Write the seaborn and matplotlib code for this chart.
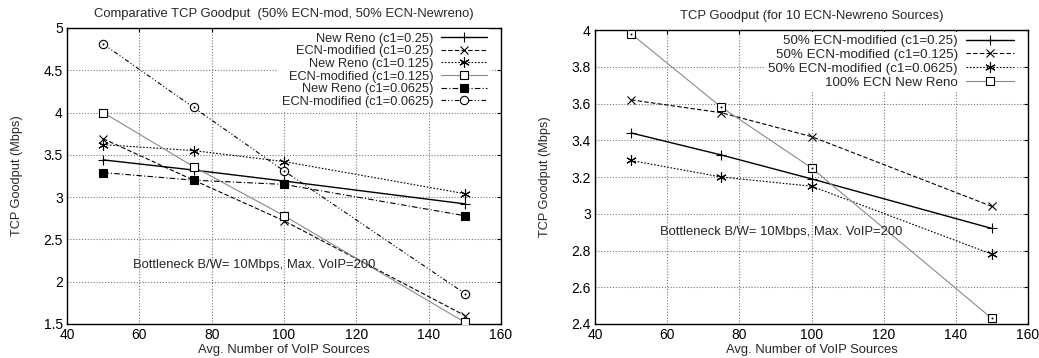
import matplotlib
matplotlib.use("Agg")
import matplotlib.pyplot as plt
import seaborn as sns
import pandas as pd

# ---------------- data ----------------
voip_sources = [50, 75, 100, 150]

# left panel
left_newreno_025 = [3.44, 3.32, 3.19, 2.92]
left_ecnmod_025 = [3.69, 3.20, 2.72, 1.60]
left_newreno_0125 = [3.62, 3.55, 3.42, 3.04]
left_ecnmod_0125 = [4.00, 3.36, 2.78, 1.52]
left_newreno_00625 = [3.29, 3.20, 3.15, 2.78]
left_ecnmod_00625 = [4.81, 4.06, 3.31, 1.86]
left_labels = ["New Reno (c1=0.25)", "ECN-modified (c1=0.25)",
               "New Reno (c1=0.125)", "ECN-modified (c1=0.125)",
               "New Reno (c1=0.0625)", "ECN-modified (c1=0.0625)"]

# right panel
right_ecnmod_025 = [3.44, 3.32, 3.19, 2.92]
right_ecnmod_0125 = [3.62, 3.55, 3.42, 3.04]
right_ecnmod_00625 = [3.29, 3.20, 3.15, 2.78]
right_ecn_newreno = [3.98, 3.58, 3.25, 2.43]
right_labels = ["50% ECN-modified (c1=0.25)", "50% ECN-modified (c1=0.125)",
                "50% ECN-modified (c1=0.0625)", "100% ECN New Reno"]

left_title = "Comparative TCP Goodput  (50% ECN-mod, 50% ECN-Newreno)"
right_title = "TCP Goodput (for 10 ECN-Newreno Sources)"
x_label = "Avg. Number of VoIP Sources"
y_label = "TCP Goodput (Mbps)"
note = "Bottleneck B/W= 10Mbps, Max. VoIP=200"

# ---------------- style ----------------
sns.set_style("white")
plt.rcParams["font.family"] = ["Liberation Sans", "DejaVu Sans"]
plt.rcParams["font.size"] = 9

GRAY = "#8a8a8a"
asterisk = (6, 2, 0)

styles_left = [
    dict(color="black", lw=1.0, ls="-", marker="+", ms=7, mfc="none"),
    dict(color="black", lw=0.8, ls=(0, (4, 2)), marker="x", ms=5.5, mfc="none"),
    dict(color="black", lw=0.8, ls=(0, (1.5, 1.5)), marker=asterisk, ms=7.5, mfc="none"),
    dict(color=GRAY, lw=0.8, ls="-", marker="s", ms=6, mfc="white"),
    dict(color="black", lw=0.8, ls=(0, (5, 2, 1, 2)), marker="s", ms=6, mfc="black"),
    dict(color="black", lw=0.8, ls=(0, (4, 2, 1, 2, 1, 2)), marker="o", ms=6, mfc="white"),
]
styles_right = [
    dict(color="black", lw=1.0, ls="-", marker="+", ms=7, mfc="none"),
    dict(color="black", lw=0.8, ls=(0, (4, 2)), marker="x", ms=5.5, mfc="none"),
    dict(color="black", lw=0.8, ls=(0, (1.5, 1.5)), marker=asterisk, ms=7.5, mfc="none"),
    dict(color=GRAY, lw=0.8, ls="-", marker="s", ms=6, mfc="white"),
]

fig = plt.figure(figsize=(10.39, 3.58), dpi=100)
axL = fig.add_axes([0.0645, 0.095, 0.4177, 0.827])
axR = fig.add_axes([0.5727, 0.095, 0.4167, 0.821])


def draw(ax, series, labels, styles, dotted_idx):
    handles = []
    for vals, lab, st in zip(series, labels, styles):
        df = pd.DataFrame({"x": voip_sources, "y": vals})
        sns.lineplot(data=df, x="x", y="y", ax=ax, color=st["color"],
                     linewidth=st["lw"], linestyle=st["ls"], marker=st["marker"],
                     markersize=st["ms"], markerfacecolor=st["mfc"],
                     markeredgecolor="black", markeredgewidth=0.8,
                     label=lab, legend=False, zorder=3)
        handles.append(ax.get_lines()[-1])
    for i in dotted_idx:
        df = pd.DataFrame({"x": voip_sources, "y": series[i]})
        sns.scatterplot(data=df, x="x", y="y", ax=ax, s=2, color="black",
                        linewidth=0, legend=False, zorder=4)
    return handles


hL = draw(axL, [left_newreno_025, left_ecnmod_025, left_newreno_0125,
                left_ecnmod_0125, left_newreno_00625, left_ecnmod_00625],
          left_labels, styles_left, [5])
hR = draw(axR, [right_ecnmod_025, right_ecnmod_0125, right_ecnmod_00625,
                right_ecn_newreno], right_labels, styles_right, [3])


def finish(ax, ylim, yticks, title, handles, labels, anchor, legfs, legsp):
    ax.set_xlim(40, 160)
    ax.set_ylim(*ylim)
    ax.set_xticks([40, 60, 80, 100, 120, 140, 160])
    ax.set_yticks(yticks)
    ax.set_yticklabels(["%g" % v for v in yticks])
    ax.set_axisbelow(True)
    ax.grid(True, which="major", color="#555555", linestyle=(0, (1, 1.6)),
            linewidth=0.8, alpha=0.8)
    for s in ax.spines.values():
        s.set_color("black")
        s.set_linewidth(1.0)
    ax.tick_params(direction="in", length=3, top=True, right=True,
                   labelsize=10, pad=3, colors="black")
    ax.set_xlabel(x_label, fontsize=9.4, labelpad=1)
    ax.set_ylabel(y_label, fontsize=9.2, labelpad=15)
    ax.set_title(title, fontsize=9.4, pad=8)
    leg = ax.legend(handles, labels, loc="upper right", bbox_to_anchor=anchor,
                    markerfirst=False, frameon=True, fontsize=legfs,
                    handlelength=3.6, handletextpad=0.6, labelspacing=legsp,
                    borderpad=0.25, borderaxespad=0.0)
    leg.get_frame().set_facecolor("white")
    leg.get_frame().set_edgecolor("none")
    leg.get_frame().set_alpha(1.0)
    leg.set_zorder(5)


finish(axL, (1.5, 5), [1.5, 2, 2.5, 3, 3.5, 4, 4.5, 5], left_title,
       hL, left_labels, (0.975, 0.995), 9.2, 0.05)
finish(axR, (2.4, 4), [2.4, 2.6, 2.8, 3, 3.2, 3.4, 3.6, 3.8, 4], right_title,
       hR, right_labels, (0.975, 0.995), 9.6, 0.12)

axL.text(58.2, 2.2, note, fontsize=9.4, va="center", ha="left", zorder=6)
axR.text(58, 2.9, note, fontsize=9.4, va="center", ha="left", zorder=6)

fig.savefig("out.png", dpi=100)
